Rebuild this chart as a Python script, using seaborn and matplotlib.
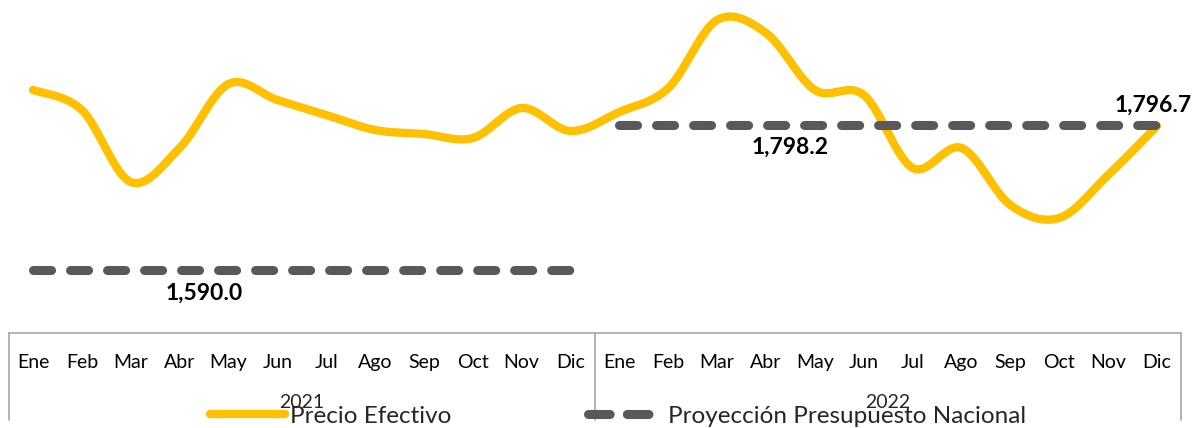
import numpy as np
import pandas as pd
import seaborn as sns
import matplotlib.pyplot as plt
from matplotlib.lines import Line2D
from matplotlib.transforms import blended_transform_factory

sns.set_theme(style="white")
plt.rcParams['font.family'] = ['Lato', 'DejaVu Sans']

months = ["Ene", "Feb", "Mar", "Abr", "May", "Jun", "Jul", "Ago", "Sep", "Oct", "Nov", "Dic"]
years = ["2021", "2022"]
precio_2021 = [1848.5, 1819.7, 1716.3, 1765.2, 1857.1, 1834.1, 1812.6, 1791.0, 1785.3, 1779.5, 1822.6, 1789.6]
precio_2022 = [1816.9, 1851.3, 1949.0, 1930.3, 1848.5, 1841.3, 1736.5, 1765.2, 1683.3, 1664.7, 1726.4, 1796.7]
proyeccion = [1590.0, 1798.2]
proy_labels = ["1,590.0", "1,798.2"]
ultimo_label = "1,796.7"

YELLOW = "#FFC000"
GRAY = "#595959"

precio = np.array(precio_2021 + precio_2022)
idx = np.arange(len(precio), dtype=float)


def catmull_rom(x, y, n=30):
    px = np.concatenate([[x[0]], x, [x[-1]]])
    py = np.concatenate([[y[0]], y, [y[-1]]])
    xs, ys = [], []
    for i in range(1, len(px) - 2):
        t = np.linspace(0, 1, n, endpoint=False)
        for arr, out in ((px, xs), (py, ys)):
            p0, p1, p2, p3 = arr[i - 1], arr[i], arr[i + 1], arr[i + 2]
            out.extend(0.5 * ((2 * p1) + (-p0 + p2) * t +
                              (2 * p0 - 5 * p1 + 4 * p2 - p3) * t ** 2 +
                              (-p0 + 3 * p1 - 3 * p2 + p3) * t ** 3))
    xs.append(x[-1]); ys.append(y[-1])
    return np.array(xs), np.array(ys)


sx, sy = catmull_rom(idx, precio)
smooth = pd.DataFrame({"x": sx, "y": sy})

fig = plt.figure(figsize=(11.95, 4.28), dpi=100)
W, H = 1195, 428
left_px, right_px, bottom_px = 8.6, 1181.4, 333
ax = fig.add_axes([left_px / W, 1 - bottom_px / H, (right_px - left_px) / W, bottom_px / H])

sns.lineplot(data=smooth, x="x", y="y", ax=ax, color=YELLOW, linewidth=6.0,
             sort=False, solid_capstyle="round", legend=False)

for i, val in enumerate(proyeccion):
    seg = pd.DataFrame({"x": idx[i * 12:(i + 1) * 12], "y": [val] * 12})
    sns.lineplot(data=seg, x="x", y="y", ax=ax, color=GRAY, linewidth=6.5, legend=False)
    ln = ax.lines[-1]
    ln.set_linestyle((0, (2.0, 2.1)))
    ln.set_dash_capstyle("round")

ax.set_xlim(-0.5, 23.5)
ax.set_ylim(1499.5, 1977.7)

ax.annotate(proy_labels[0], xy=(3.5, proyeccion[0]), xytext=(0, -16.5), textcoords="offset points",
            ha="center", va="center", fontsize=16.5, fontweight="bold", color="black")
ax.annotate(proy_labels[1], xy=(15.5, proyeccion[1]), xytext=(0, -16), textcoords="offset points",
            ha="center", va="center", fontsize=16.5, fontweight="bold", color="black")
ax.annotate(ultimo_label, xy=(23, precio[-1]), xytext=(-3, 15), textcoords="offset points",
            ha="center", va="center", fontsize=16.5, fontweight="bold", color="black")

# category axis
ax.set_yticks([])
ax.set_xticks(idx)
ax.set_xticklabels(months * 2, fontsize=14, color="black")
ax.tick_params(axis="x", length=0, pad=15)
for s in ["left", "right", "top"]:
    ax.spines[s].set_visible(False)
ax.spines["bottom"].set_color("#A6A6A6")
ax.spines["bottom"].set_linewidth(1.2)
ax.set_xlabel("")
ax.set_ylabel("")
for xb in [-0.5, 11.5, 23.5]:
    ax.axvline(xb, ymin=-0.26, ymax=0, color="#A6A6A6", linewidth=1.2, clip_on=False)

tr = blended_transform_factory(ax.transData, fig.transFigure)
for i, yr in enumerate(years):
    ax.text(5.5 + 12 * i, 1 - 403 / H, yr, transform=tr, ha="center", va="center", fontsize=14)

handles = [Line2D([0], [0], color=YELLOW, linewidth=6.0, solid_capstyle="round"),
           Line2D([0], [0], color=GRAY, linewidth=6.5, linestyle=(0, (2.4, 1.9)), dash_capstyle="round")]
fig.legend(handles, ["Precio Efectivo", "Proyección Presupuesto Nacional"], loc="center",
           bbox_to_anchor=(618 / W, 1 - 416 / H), ncol=2, frameon=False, fontsize=17.5,
           handlelength=3.1, columnspacing=5.6, handletextpad=0.2)

fig.savefig("out.png", dpi=100)
